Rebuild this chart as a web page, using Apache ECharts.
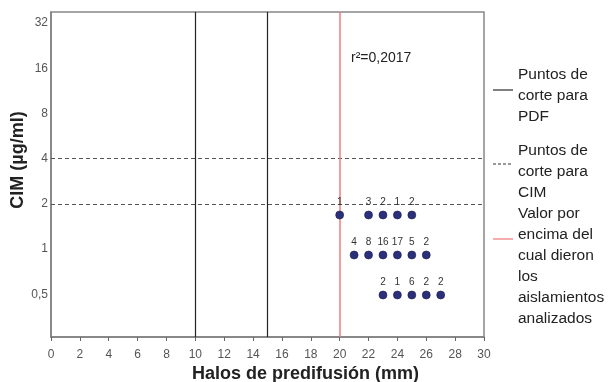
<!DOCTYPE html>
<html>
<head>
<meta charset="utf-8">
<script src="https://cdn.jsdelivr.net/npm/echarts@6/dist/echarts.min.js"></script>
<style>
html,body{margin:0;padding:0;background:#fff;}
#c{width:608px;height:382px;}
</style>
</head>
<body>
<div id="c"></div>
<script>
// Data
const haloMm     = [20, 22, 23, 24, 25,   21, 22, 23, 24, 25, 26,   23, 24, 25, 26, 27];
const cimUgMl    = [2, 2, 2, 2, 2,        1, 1, 1, 1, 1, 1,         0.5, 0.5, 0.5, 0.5, 0.5];
const isolates   = [1, 3, 2, 1, 2,        4, 8, 16, 17, 5, 2,       2, 1, 6, 2, 2];
const pdfCutoffs = [10, 15];
const cimCutoffs = [4, 2];
const thresholdHalo = [20];
const r2Text = 'r\u00b2=0,2017';
const legendNames = ['Puntos de\ncorte para\nPDF', 'Puntos de\ncorte para\nCIM', 'Valor por\nencima del\ncual dieron\nlos\naislamientos\nanalizados'];
const seriesColors = ['#222222', '#555555', '#f37b7b'];
const legendIconColors = ['#000000', '#333333', '#ec5a5a'];

const FONT = '"Liberation Sans", Arial, sans-serif';
const chart = echarts.init(document.getElementById('c'), null, {renderer: 'canvas'});

const points = haloMm.map((x, i) => ({value: [x, cimUgMl[i]], n: isolates[i]}));

function fmtY(v) {
  const r = Math.round(v * 1000) / 1000;
  return String(r).replace('.', ',');
}

const ICON_SOLID = 'path://M0,0H20V1H0Z';
const ICON_DASH = 'path://M0,0H3V1H0Z M5,0H8V1H5Z M10,0H13V1H10Z M15,0H18V1H15Z M20,0H20.01V1H20Z';

function makeLegend(idx, top, spacer, icon) {
  return {
    orient: 'vertical', left: 493, top: top, padding: 0, itemWidth: 20, itemHeight: 1.3,
    selectedMode: false, icon: icon,
    data: [{name: legendNames[idx], itemStyle: {color: legendIconColors[idx], borderWidth: 0}}],
    itemStyle: {color: legendIconColors[idx], borderWidth: 0},
    formatter: name => '{sp| }\n' + name.split('\n').map(s => '{t|' + s + '}').join('\n'),
    textStyle: {
      fontFamily: FONT, fontSize: 15.5, color: '#222',
      rich: {
        sp: {fontSize: 2, lineHeight: spacer},
        t: {fontFamily: FONT, fontSize: 15.5, lineHeight: 21, color: '#222'}
      }
    }
  };
}

chart.setOption({
  animation: false,
  textStyle: {fontFamily: FONT},
  grid: {left: 51, right: 124, top: 12, bottom: 45, containLabel: false, outerBoundsMode: 'none',
         show: true, borderColor: '#888', borderWidth: 1.5, backgroundColor: 'transparent'},
  xAxis: {
    type: 'value', min: 0, max: 30, interval: 2,
    axisLine: {lineStyle: {color: '#808080', width: 1.5}},
    axisTick: {show: true, length: 4, lineStyle: {color: '#666'}},
    axisLabel: {color: '#555', fontSize: 12, margin: 12, fontFamily: FONT},
    splitLine: {show: false},
    name: 'Halos de predifusión (mm)', nameLocation: 'middle', nameGap: 28, nameMoveOverlap: false,
    nameTextStyle: {fontSize: 18, fontWeight: 'bold', color: '#222', fontFamily: FONT, padding: [0, 0, 0, 76]}
  },
  yAxis: [
    {
      type: 'log', logBase: 2, min: 0.2597, max: 37.9, splitNumber: 7,
      axisLine: {show: true, lineStyle: {color: '#808080', width: 1.5}},
      axisTick: {show: false},
      axisLabel: {color: '#555', fontSize: 12, margin: 3, fontFamily: FONT, showMinLabel: false, showMaxLabel: false, formatter: fmtY},
      splitLine: {show: false},
      name: 'CIM (µg/ml)', nameLocation: 'middle', nameGap: 24, nameMoveOverlap: false,
      nameTextStyle: {fontSize: 18, fontWeight: 'bold', color: '#222', fontFamily: FONT, padding: [0, 0, 0, 29]}
    },
    {
      type: 'log', logBase: 2, min: 0.2415, max: 67.4, show: false
    }
  ],
  legend: [
    makeLegend(0, 57.5, 12, ICON_SOLID),
    makeLegend(1, 131.5, 16, ICON_DASH),
    makeLegend(2, 175, 55, ICON_SOLID)
  ],
  graphic: [{
    type: 'text', left: 351, top: 51,
    style: {text: r2Text, fontSize: 14, fontFamily: FONT, fill: '#222'}
  }],
  series: [
    {
      name: legendNames[0], type: 'line', data: [], symbol: 'none',
      lineStyle: {color: seriesColors[0], width: 1.2}, itemStyle: {color: seriesColors[0]},
      markLine: {
        silent: true, symbol: 'none', label: {show: false},
        lineStyle: {color: seriesColors[0], width: 1.2, type: 'solid'},
        data: pdfCutoffs.map(v => ({xAxis: v}))
      }
    },
    {
      name: legendNames[1], type: 'line', data: [], symbol: 'none', yAxisIndex: 0,
      lineStyle: {color: seriesColors[1], width: 1, type: [3, 2]}, itemStyle: {color: seriesColors[1]},
      markLine: {
        silent: true, symbol: 'none', label: {show: false},
        lineStyle: {color: seriesColors[1], width: 1, type: [4, 3]},
        data: cimCutoffs.map(v => ({yAxis: v}))
      }
    },
    {
      name: legendNames[2], type: 'line', data: [], symbol: 'none',
      lineStyle: {color: seriesColors[2], width: 1.5}, itemStyle: {color: seriesColors[2]},
      markLine: {
        silent: true, symbol: 'none', label: {show: false},
        lineStyle: {color: seriesColors[2], width: 1.5, type: 'solid'},
        data: thresholdHalo.map(v => ({xAxis: v}))
      }
    },
    {
      name: 'aislamientos', type: 'scatter', yAxisIndex: 1, data: points,
      symbolSize: 8,
      itemStyle: {color: '#2c2f7a', borderColor: '#1b1c4c', borderWidth: 0.6, opacity: 1},
      label: {
        show: true, position: 'top', distance: 3, fontSize: 10, color: '#333', fontFamily: FONT,
        formatter: p => String(p.data.n)
      },
      z: 5
    }
  ]
});
</script>
</body>
</html>
